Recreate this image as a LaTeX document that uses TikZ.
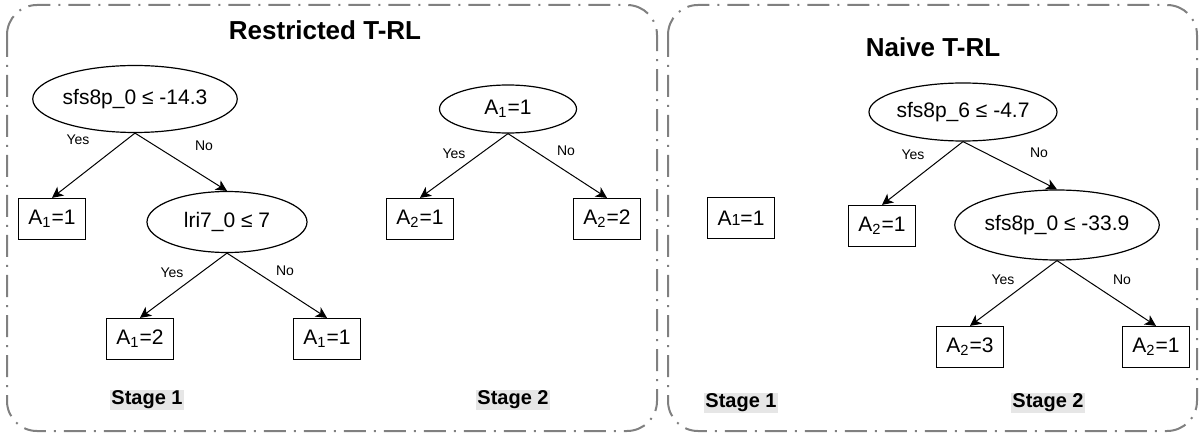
\documentclass[tikz,border=0pt]{standalone}
\usepackage{fontspec}
\setmainfont{Liberation Sans}
\usetikzlibrary{arrows.meta,shapes.geometric}
\definecolor{framegray}{RGB}{128,128,128}
\definecolor{stagebg}{RGB}{230,230,230}
\begin{document}
\begin{tikzpicture}[x=0.5pt,y=-0.5pt,
  panel/.style={draw=framegray, line width=1pt, rounded corners=15pt,
    dash pattern=on 11pt off 4pt on 1pt off 4pt},
  title/.style={font=\bfseries\fontsize{13}{15}\selectfont},
  test/.style={ellipse, draw, line width=0.6pt, inner sep=0pt,
    font=\fontsize{10.5}{12}\selectfont},
  leaf/.style={rectangle, draw, line width=0.6pt, inner sep=0pt,
    minimum width=33.5pt, minimum height=20.5pt,
    font=\fontsize{10.5}{12}\selectfont},
  branch/.style={font=\fontsize{7}{8}\selectfont, inner sep=0pt},
  stagelbl/.style={fill=stagebg, inner sep=0.6pt,
    font=\bfseries\fontsize{10}{12}\selectfont},
  edge/.style={-{Stealth[length=5.5pt,width=5.5pt,inset=1.5pt]}, line width=0.5pt}]
\useasboundingbox (0,0) rectangle (1201,433);

% panel frames
\draw[panel] (7,5) rectangle (657,431);
\draw[panel] (668,5) rectangle (1197,431);

% ---- Restricted T-RL ----
\node[title] (t1) at (325,30) {Restricted T-RL};

% stage 1 tree
\node[test, minimum width=81pt, minimum height=33.5pt] (n1) at (135,99) {sfs8p\_0 ≤ -14.3};
\node[leaf] (l1) at (52,219) {A\textsubscript{1}=1};
\node[test, minimum width=80pt, minimum height=30.5pt] (n2) at (227,222) {lri7\_0 ≤ 7};
\node[leaf] (l2) at (140,339) {A\textsubscript{1}=2};
\node[leaf] (l3) at (327,339) {A\textsubscript{1}=1};
\draw[edge] (n1.south) -- (l1.north);
\draw[edge] (n1.south) -- (n2.north);
\draw[edge] (n2.south) -- (l2.north);
\draw[edge] (n2.south) -- (l3.north);
\node[branch] (y1) at (78,140) {Yes};
\node[branch] (o1) at (204,146) {No};
\node[branch] (y2) at (172,273) {Yes};
\node[branch] (o2) at (285,271) {No};

% stage 2 tree
\node[test, minimum width=68.5pt, minimum height=24pt] (n3) at (508,109) {A\textsubscript{1}=1};
\node[leaf] (l4) at (420,219) {A\textsubscript{2}=1};
\node[leaf] (l5) at (607,219) {A\textsubscript{2}=2};
\draw[edge] (n3.south) -- (l4.north);
\draw[edge] (n3.south) -- (l5.north);
\node[branch] (y3) at (454,154) {Yes};
\node[branch] (o3) at (566,151) {No};

\node[stagelbl] (s11) at (147,400) {Stage 1};
\node[stagelbl] (s12) at (513,400) {Stage 2};

% ---- Naive T-RL ----
\node[title] (t2) at (933,47) {Naive T-RL};

\node[leaf] (r0) at (741,218) {A{\fontsize{8}{10}\selectfont 1}=1};

\node[test, minimum width=80pt, minimum height=29pt] (n4) at (963,112) {sfs8p\_6 ≤ -4.7};
\node[leaf] (r1) at (882,226) {A\textsubscript{2}=1};
\node[test, minimum width=80pt, minimum height=35pt] (n5) at (1057,225) {sfs8p\_0 ≤ -33.9};
\node[leaf] (r2) at (970,347) {A\textsubscript{2}=3};
\node[leaf] (r3) at (1156,347) {A\textsubscript{2}=1};
\draw[edge] (n4.south) -- (r1.north);
\draw[edge] (n4.south) -- (n5.north);
\draw[edge] (n5.south) -- (r2.north);
\draw[edge] (n5.south) -- (r3.north);
\node[branch] (y4) at (913,155) {Yes};
\node[branch] (o4) at (1039,153) {No};
\node[branch] (y5) at (1003,280) {Yes};
\node[branch] (o5) at (1122,280) {No};

\node[stagelbl] (s21) at (741,403) {Stage 1};
\node[stagelbl] (s22) at (1048,403) {Stage 2};
\end{tikzpicture}
\end{document}
